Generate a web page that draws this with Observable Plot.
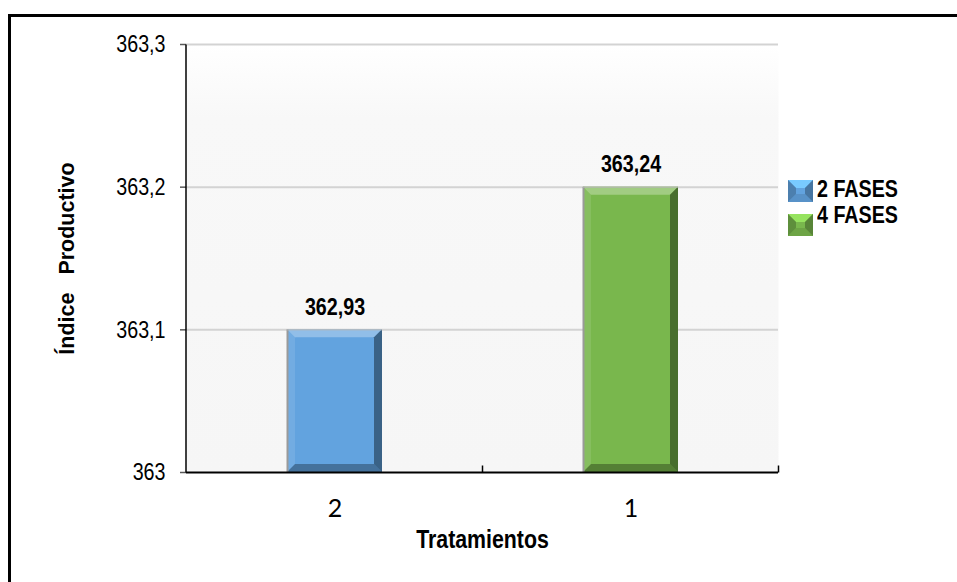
<!DOCTYPE html>
<html>
<head>
<meta charset="utf-8">
<script src="https://cdn.jsdelivr.net/npm/d3@7"></script>
<script src="https://cdn.jsdelivr.net/npm/@observablehq/plot@0.6"></script>
<style>
  body { margin: 0; background: #fff; }
  #chart { position: relative; width: 957px; height: 582px; overflow: hidden; background: #fff; }
  #chart > svg.plot-main { position: absolute; left: 0; top: 0; }
  #border { position: absolute; left: 8px; top: 14px; width: 2000px; height: 2000px;
            border-left: 3px solid #000; border-top: 3px solid #000; box-sizing: border-box; }
  svg text { white-space: pre; }
  .legend-label { position: absolute; left: 817px; font: bold 24px/24px "Liberation Sans", Arial, sans-serif;
                  color: #000; white-space: nowrap; transform: scaleX(0.82); transform-origin: left center; }
  .legend-swatch { position: absolute; }
</style>
</head>
<body>
<div id="chart"><div id="border"></div></div>
<script>
// Treatments on the x axis, one bar each
const treatments = ["2", "1"];
const series = ["2 FASES", "4 FASES"];
const values = [362.93, 363.24];
const colors = ["#62a3df", "#79b74d"];

// Value axis: tick positions and the labels printed at them
const yTicks = [362.62, 362.93, 363.24, 363.55];
const yTickLabels = ["363", "363,1", "363,2", "363,3"];

const xTitle = "Tratamientos";
const yTitle = "Índice   Productivo";

const sans = '"Liberation Sans", Arial, sans-serif';
const narrowFactor = 0.82; // condensed lettering, as in a narrow face
const data = treatments.map((t, i) => ({treatment: t, series: series[i], value: values[i]}));
const yLabelOf = new Map(yTicks.map((t, i) => [t, yTickLabels[i]]));
const fmtValue = d => d3.format(".2f")(d).replace(".", ",");

// Beveled faces drawn over each bar rectangle
function bevel(index, scales, channels, dimensions, context, next) {
  const g = next(index, scales, channels, dimensions, context);
  const b = 8;
  d3.select(g).selectAll("rect").each(function () {
    const x = +this.getAttribute("x"), y = +this.getAttribute("y");
    const w = +this.getAttribute("width"), h = +this.getAttribute("height");
    const faces = [
      {p: [[x, y], [x + w, y], [x + w - b, y + b], [x + b, y + b]], fill: "#fff", o: 0.3},
      {p: [[x, y + h], [x + w, y + h], [x + w - b, y + h - b], [x + b, y + h - b]], fill: "#000", o: 0.3},
      {p: [[x, y], [x + b, y + b], [x + b, y + h - b], [x, y + h]], fill: "#fff", o: 0.1},
      {p: [[x + w, y], [x + w - b, y + b], [x + w - b, y + h - b], [x + w, y + h]], fill: "#000", o: 0.4}
    ];
    const parent = d3.select(this.parentNode);
    for (const f of faces) {
      parent.append("polygon")
        .attr("points", f.p.map(q => q.join(",")).join(" "))
        .attr("fill", f.fill).attr("fill-opacity", f.o);
    }
    parent.append("line").attr("x1", x + 0.5).attr("x2", x + 0.5).attr("y1", y).attr("y2", y + h)
      .attr("stroke", "#9a9a9a").attr("stroke-width", 2);
    parent.append("line").attr("x1", x).attr("x2", x + w).attr("y1", y + 0.5).attr("y2", y + 0.5)
      .attr("stroke", "#b5b5b5").attr("stroke-width", 1);
  });
  return g;
}

// Left axis line and the small category divider ticks along the baseline
function axisLines(index, scales, channels, dimensions, context, next) {
  const g = next(index, scales, channels, dimensions, context);
  const {x, y} = scales;
  const [yBottom, yTop] = y.range();
  const step = x.step(), bw = x.bandwidth();
  const edges = treatments.map(t => x(t) + bw / 2 + step / 2);
  const sel = d3.select(g);
  sel.append("line")
    .attr("x1", dimensions.marginLeft).attr("x2", dimensions.marginLeft)
    .attr("y1", yTop).attr("y2", yBottom)
    .attr("stroke", "#000").attr("stroke-width", 1.5);
  for (const e of edges) {
    sel.append("line").attr("x1", e).attr("x2", e).attr("y1", yBottom).attr("y2", yBottom - 7)
      .attr("stroke", "#000").attr("stroke-width", 1.5);
  }
  return g;
}

const plot = Plot.plot({
  width: 957,
  height: 582,
  marginLeft: 186,
  marginRight: 179,
  marginTop: 44,
  marginBottom: 110,
  className: "plot-main",
  style: {fontFamily: sans, fontSize: "24px", background: "transparent", color: "#000"},
  x: {domain: treatments, paddingInner: 0.68, paddingOuter: 0.34, axis: null},
  y: {domain: [yTicks[0], yTicks[yTicks.length - 1]], axis: null},
  color: {domain: series, range: colors},
  marks: [
    Plot.frame({fill: "url(#plotBg)", stroke: "none"}),
    Plot.ruleY(yTicks.slice(1), {stroke: "#d3d3d3", strokeWidth: 2}),
    Plot.barY(data, {x: "treatment", y1: yTicks[0], y2: "value", fill: "series", render: bevel}),
    Plot.text(data, {x: "treatment", y: "value", text: d => fmtValue(d.value), dy: -22.5,
      fontSize: 24, fontWeight: "bold", fill: "#000"}),
    Plot.axisY({ticks: yTicks, tickFormat: d => yLabelOf.get(d), tickSize: 6, tickPadding: 15,
      fontSize: 24, label: null, stroke: "#595959", strokeWidth: 1.5, fill: "#000"}),
    Plot.axisX({tickSize: 0, tickPadding: 27, fontSize: 25, fontFamily: "Lato", label: null, fill: "#000"}),
    Plot.ruleY([yTicks[0]], {stroke: "#000", strokeWidth: 2, render: axisLines}),
    Plot.text([xTitle], {frameAnchor: "bottom", lineAnchor: "middle", dy: 67, fontSize: 26,
      fontWeight: "bold", fill: "#000"}),
    Plot.text([yTitle], {frameAnchor: "left", textAnchor: "middle", rotate: -90, dx: -119,
      fontSize: 21.5, fontWeight: "bold", fill: "#000"})
  ]
});

d3.select(plot).insert("defs", ":first-child").html(`
  <linearGradient id="plotBg" x1="0" y1="0" x2="0" y2="1">
    <stop offset="0" stop-color="#ffffff"/>
    <stop offset="0.17" stop-color="#f8f8f8"/>
    <stop offset="1" stop-color="#f6f6f6"/>
  </linearGradient>`);

const chart = document.getElementById("chart");
chart.appendChild(plot);

// Condense every label except the category numbers and the vertical title
d3.select(plot).selectAll("text").each(function () {
  const group = this.closest("g[aria-label]");
  const role = group ? group.getAttribute("aria-label") : "";
  if (role === "x-axis tick label" || this.textContent === yTitle) return;
  const len = this.getComputedTextLength();
  this.setAttribute("textLength", len * narrowFactor);
  this.setAttribute("lengthAdjust", "spacingAndGlyphs");
});

// Legend: beveled swatches beside the plot
const swatchTops = [180, 214];
const labelTops = [177, 203];
series.forEach((s, i) => {
  const c = d3.color(colors[i]);
  const w = 25, h = 22, b = 8;
  const sw = d3.select(chart).append("svg").attr("class", "legend-swatch")
    .attr("width", w).attr("height", h)
    .style("left", "788px").style("top", swatchTops[i] + "px");
  sw.append("rect").attr("width", w).attr("height", h).attr("fill", c.formatHex());
  const faces = [
    {p: [[0, 0], [w, 0], [w - b, b], [b, b]], fill: c.brighter(0.6)},
    {p: [[0, h], [w, h], [w - b, h - b], [b, h - b]], fill: c.darker(0.3)},
    {p: [[0, 0], [b, b], [b, h - b], [0, h]], fill: c.darker(0.7)},
    {p: [[w, 0], [w - b, b], [w - b, h - b], [w, h]], fill: c.darker(0.9)}
  ];
  for (const f of faces) {
    sw.append("polygon").attr("points", f.p.map(q => q.join(",")).join(" ")).attr("fill", f.fill.formatHex());
  }
  d3.select(chart).append("div").attr("class", "legend-label")
    .style("top", labelTops[i] + "px").text(s);
});
</script>
</body>
</html>
